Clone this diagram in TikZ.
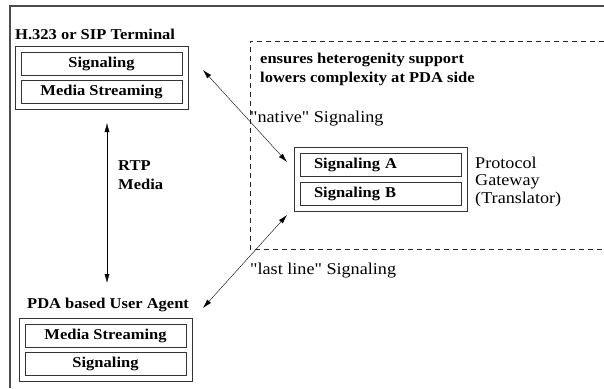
\documentclass[tikz,border=0pt]{standalone}
\usepackage{fontspec}
\setmainfont{Liberation Serif}[FakeStretch=1.1, Ligatures=TeXOff]
\usetikzlibrary{arrows.meta,fit,positioning}

\newcommand{\diagfont}{\fontsize{15}{17}\selectfont}
\newcommand{\notefont}{\fontsize{16.5}{18}\selectfont}

\tikzset{
	thick,
	>={Latex[length=9pt,width=5pt]},
	layer/.style = {
			draw            = black!80,
			thin,
			minimum width   = 161pt,
			minimum height  = 23pt,
			inner sep       = 0pt,
			font            = \diagfont\bfseries,
		},
	gwlayer/.style = {layer, text width=133pt, inner xsep=14pt, align=left},
	stack/.style = {draw=black!80, thin, inner sep=5.5pt},
	heading/.style = {anchor=base west, inner sep=0pt, font=\diagfont\bfseries},
	remark/.style = {anchor=base west, inner sep=0pt, font=\notefont},
	frame/.style = {draw=black!70, line width=1.2pt},
	zone/.style = {draw=black!85, thin, dash pattern=on 5pt off 4pt},
}

\begin{document}
\begin{tikzpicture}[x=1pt,y=-1pt]
		\useasboundingbox (0,0) rectangle (604,388);
		\draw[frame] (604,6) -- (10,6) -- (10,388);

		% terminal
		\node[heading] (termtitle) at (15,39) {H.323 or SIP Terminal};
		\node[layer] (termsig) at (101.5,63.5) {Signaling};
		\node[layer] (termmedia) at (101.5,91.5) {Media Streaming};
		\node[stack, fit=(termsig) (termmedia)] (term) {};

		% gateway and its zone
		\draw[zone] (604,41) -- (250,41) -- (250,249) -- (604,249);
		\node[heading] (gist1) at (260,63) {ensures heterogenity support};
		\node[heading] (gist2) at (260,82) {lowers complexity at PDA side};

		\node[gwlayer] (gwa) at (380.5,164.5) {Signaling A};
		\node[gwlayer] (gwb) at (380.5,193.5) {Signaling B};
		\node[stack, fit=(gwa) (gwb)] (gw) {};
		\node[remark] (gwname1) at (475,168) {Protocol};
		\node[remark] (gwname2) at (475,185) {Gateway};
		\node[remark] (gwname3) at (475,203) {(Translator)};

		% PDA
		\node[heading] (pdatitle) at (27,308) {PDA based User Agent};
		\node[layer] (pdamedia) at (105.5,335.5) {Media Streaming};
		\node[layer] (pdasig) at (105.5,363.5) {Signaling};
		\node[stack, fit=(pdamedia) (pdasig)] (pda) {};

		% links
		\coordinate (rtptop) at (107,123);
		\coordinate (rtpbot) at (107,283);
		\coordinate (nattop) at (203,70);
		\coordinate (natbot) at (287,162);
		\coordinate (lasttop) at (287,215);
		\coordinate (lastbot) at (203,308);

		\draw[<->] (rtptop) -- (rtpbot);
		\draw[<->] (nattop) -- (natbot);
		\draw[<->] (lasttop) -- (lastbot);

		\node[heading] (rtp1) at (118,170) {RTP};
		\node[heading] (rtp2) at (118,189) {Media};
		\node[remark] (native) at (250,122) {"native" Signaling};
		\node[remark] (lastline) at (250,274) {"last line" Signaling};
	\end{tikzpicture}
\end{document}
